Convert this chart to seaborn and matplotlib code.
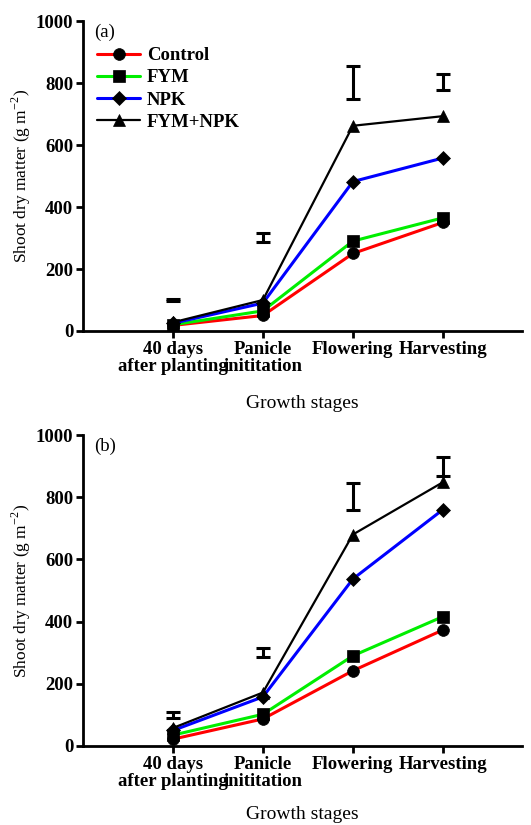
import matplotlib
matplotlib.use("Agg")
import matplotlib.pyplot as plt
import seaborn as sns
import numpy as np
import pandas as pd

sns.set_theme(style="ticks")
plt.rcParams['font.family'] = ['Liberation Serif', 'DejaVu Serif']
plt.rcParams['mathtext.fontset'] = 'custom'
plt.rcParams['mathtext.rm'] = 'Liberation Serif'
plt.rcParams['text.color'] = 'black'
plt.rcParams['axes.labelcolor'] = 'black'
plt.rcParams['xtick.color'] = 'black'
plt.rcParams['ytick.color'] = 'black'
plt.rcParams['axes.edgecolor'] = 'black'

stages = ["40 days\nafter planting", "Panicle\ninititation", "Flowering", "Harvesting"]
treatments = ["Control", "FYM", "NPK", "FYM+NPK"]

a_control = [18, 50, 250, 350]
a_fym = [20, 65, 290, 365]
a_npk = [25, 90, 482, 558]
a_fymnpk = [28, 100, 662, 693]
a_lsd_low = [96, 288, 750, 779]
a_lsd_high = [104, 317, 855, 829]

b_control = [22, 87, 242, 373]
b_fym = [35, 102, 290, 416]
b_npk = [50, 158, 537, 760]
b_fymnpk = [58, 172, 680, 848]
b_lsd_low = [89, 287, 759, 868]
b_lsd_high = [110, 314, 845, 930]

colors = {"Control": "#ff0000", "FYM": "#00ee00", "NPK": "#0000ff", "FYM+NPK": "#000000"}
markers = {"Control": "o", "FYM": "s", "NPK": "D", "FYM+NPK": "^"}
msizes = {"Control": 8.5, "FYM": 8.5, "NPK": 7, "FYM+NPK": 9}
lws = {"Control": 2.2, "FYM": 2.2, "NPK": 2.2, "FYM+NPK": 1.6}

W, H = 531, 825
fig = plt.figure(figsize=(W / 100, H / 100), dpi=100)

def make_ax(top, bottom):
    left, right = 83, 522
    return fig.add_axes([left / W, 1 - bottom / H, (right - left) / W, (bottom - top) / H])

ax_a = make_ax(21, 331)
ax_b = make_ax(435, 746)

def draw(ax, series, low, high, label, legend, xpad):
    rows = []
    for t, vals in zip(treatments, series):
        for i, v in enumerate(vals):
            rows.append({"stage": i, "value": v, "treatment": t})
    df = pd.DataFrame(rows)
    for t in treatments:
        sub = df[df.treatment == t]
        sns.lineplot(data=sub, x="stage", y="value", ax=ax, color=colors[t],
                     marker=markers[t], markersize=msizes[t], markeredgecolor="black",
                     markerfacecolor="black", markeredgewidth=0.5, linewidth=lws[t],
                     label=t if legend else None, legend=legend)
    pos = np.arange(len(stages))
    mid = (np.array(low) + np.array(high)) / 2
    err = (np.array(high) - np.array(low)) / 2
    ax.errorbar(pos, mid, yerr=err, fmt="none", ecolor="black", elinewidth=2.2,
                capsize=5, capthick=2.2)
    ax.set_xlim(-1, 3.88)
    ax.set_ylim(0, 1000)
    ax.set_xticks(pos)
    ax.set_xticklabels(stages, linespacing=1.05)
    ax.set_yticks([0, 200, 400, 600, 800, 1000])
    ax.set_yticklabels(["0", "200", "400", "600", "800", "1000"])
    for lab in ax.get_xticklabels() + ax.get_yticklabels():
        lab.set_fontsize(13.5)
        lab.set_fontweight("bold")
        lab.set_family("Liberation Serif")
        lab.set_color("black")
    for s in ["top", "right"]:
        ax.spines[s].set_visible(False)
    for s in ["left", "bottom"]:
        ax.spines[s].set_linewidth(2)
        ax.spines[s].set_color("black")
    ax.tick_params(axis="both", width=2, length=5, direction="out", pad=2, colors="black")
    ax.set_xlabel("Growth stages", fontsize=14, labelpad=xpad, color="black")
    ax.set_ylabel("Shoot dry matter (g m$^{-2}$)", fontsize=12.5, labelpad=2, color="black")
    ax.text(0.025, 0.99, label, transform=ax.transAxes, fontsize=13.5, va="top", ha="left")
    ax.set_facecolor("white")
    if legend:
        ax.legend(loc="upper left", bbox_to_anchor=(0.015, 0.94), frameon=False,
                  prop={"family": "Liberation Serif", "weight": "bold", "size": 13.5},
                  handlelength=2.3, handletextpad=0.35, labelspacing=0.27,
                  borderaxespad=0.0)

draw(ax_a, [a_control, a_fym, a_npk, a_fymnpk], a_lsd_low, a_lsd_high, "(a)", True, 14)
draw(ax_b, [b_control, b_fym, b_npk, b_fymnpk], b_lsd_low, b_lsd_high, "(b)", False, 11)

fig.savefig("out.png", dpi=100, facecolor="white")
